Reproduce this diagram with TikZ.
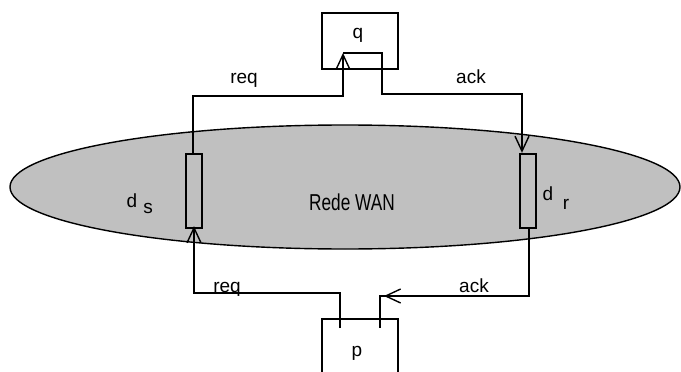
\documentclass[tikz,border=0pt]{standalone}
\usepackage{fontspec}
\setmainfont{Liberation Sans}
\usetikzlibrary{arrows.meta,shapes.geometric}
\definecolor{wangray}{HTML}{C0C0C0}
\begin{document}
\begin{tikzpicture}[x=1pt,y=-1pt,
  wire/.style={line width=1.4pt},
  tip/.style={-{Straight Barb[length=15pt,width=14pt,line width=1.4pt]}},
  dev/.style={draw,line width=2.4pt,fill=wangray,minimum width=16pt,minimum height=74pt,inner sep=0pt},
  lbl/.style={font=\fontsize{19}{19}\selectfont,anchor=base,inner sep=0pt},
  box/.style={draw,line width=1.4pt,minimum width=76pt,minimum height=56pt,inner sep=0pt}]
\useasboundingbox (0,0) rectangle (681,372);
% network
\node[ellipse,draw,line width=1.4pt,fill=wangray,minimum width=670pt,minimum height=124pt,inner sep=0pt] (wan) at (345,187) {};
\node[inner sep=0pt] (wanlbl) at (352,202) {\scalebox{0.75}[1]{\fontsize{23}{23}\selectfont Rede WAN}};
% devices
\node[dev] (ds) at (194,191) {};
\node[dev] (dr) at (528,191) {};
\node[lbl] (dslbl) at (132,207) {d};
\node[lbl] (dssub) at (148,213) {s};
\node[lbl] (drlbl) at (548,200) {d};
\node[lbl] (drsub) at (566,209) {r};
% q box
\node[box] (q) at (360,41) {};
\node[lbl] (qlbl) at (358,38) {q};
% p box (open at bottom)
\coordinate (pbl) at (322,372);
\coordinate (ptl) at (322,319);
\coordinate (ptr) at (398,319);
\coordinate (pbr) at (398,372);
\draw[wire] (pbl) -- (ptl) -- (ptr) -- (pbr);
\node[lbl] (plbl) at (357,356) {p};
% connection points
\coordinate (qin) at (343,53);
\coordinate (qout) at (382,53);
\coordinate (pout) at (340,328);
\coordinate (pin) at (380,328);
% top wires
\draw[wire,tip] (ds.north -| 193,0) |- (343,96) -- (qin);
\draw[wire,tip] (qin) -- (qout) |- (522,94) -- (dr.north -| 522,0);
% bottom wires
\draw[wire,tip] (pout) |- (194,293) -- ([yshift=3pt]ds.south -| 194,0);
\draw[wire] (dr.south -| 529,0) |- (380,296) -- (pin);
\draw[wire,tip] (395,296) -- (384,296);
% labels
\node[lbl] (req1) at (244,83) {req};
\node[lbl] (ack1) at (471,83) {ack};
\node[lbl] (req2) at (227,292) {req};
\node[lbl] (ack2) at (474,292) {ack};
\end{tikzpicture}
\end{document}
